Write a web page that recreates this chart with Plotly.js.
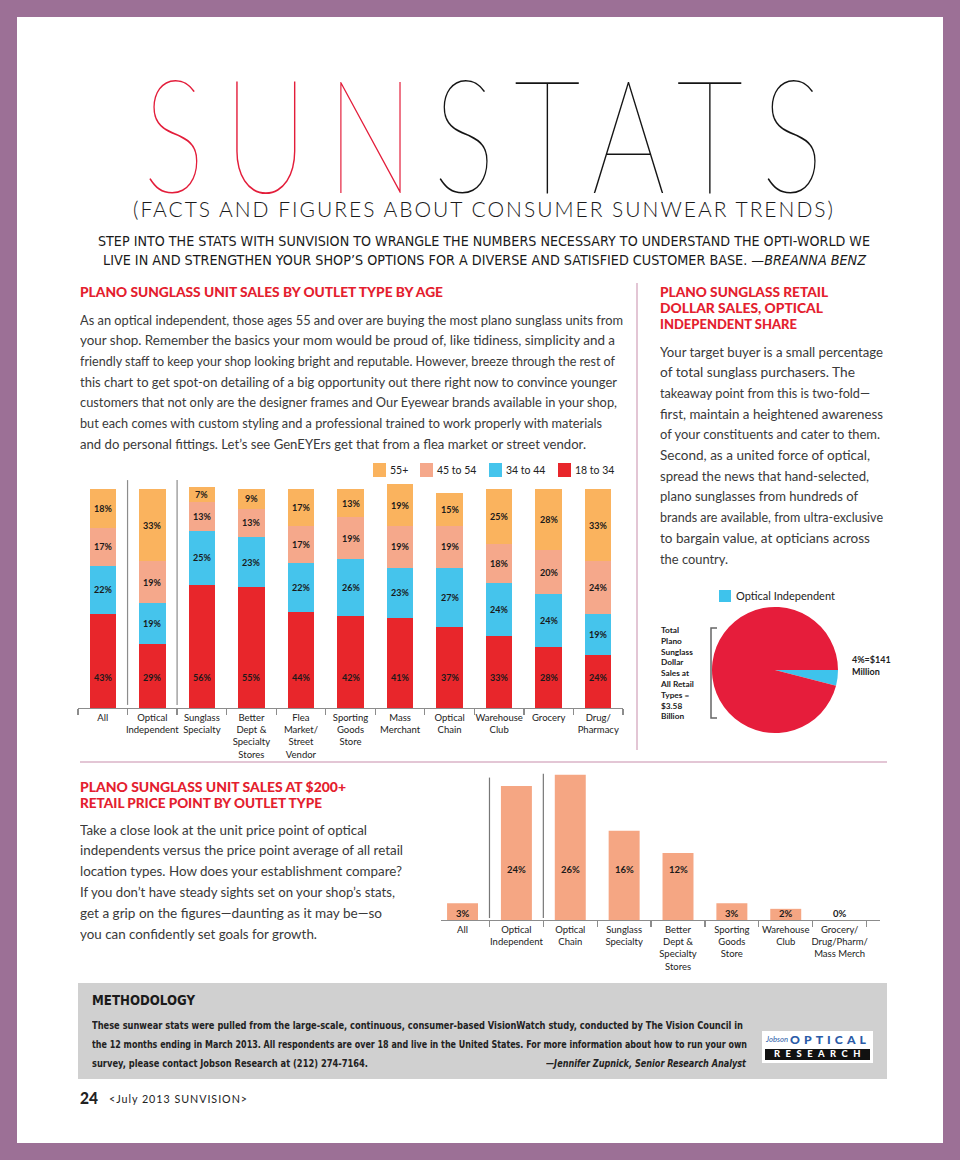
<!DOCTYPE html>
<html><head><meta charset="utf-8">
<script src="https://cdn.plot.ly/plotly-3.0.1.min.js"></script>
<style>
html,body{margin:0;padding:0;}
body{width:960px;height:1160px;background:#9c7096;position:relative;overflow:hidden;font-family:Lato,'Open Sans',sans-serif;}
#page{position:absolute;left:17px;top:17px;width:926px;height:1126px;background:#fff;}
.ln{position:absolute;white-space:nowrap;transform-origin:0 50%;line-height:1;}
.chart{position:absolute;}
#vdiv{position:absolute;left:636px;top:283px;width:2px;height:467px;background:#e3c6d5;}
#hdiv{position:absolute;left:80px;top:761px;width:807px;height:2px;background:#e3c6d5;}
#meth{position:absolute;left:78px;top:983px;width:809px;height:96px;background:#d0d0d0;}
#logo{position:absolute;left:762px;top:1031px;width:111px;height:32px;background:#fff;}
#logobar{position:absolute;left:765px;top:1049px;width:105px;height:11px;background:#111;}
</style></head>
<body>
<div id="page"></div>
<svg id="ttl" width="960" height="240" style="position:absolute;left:0;top:0">
  <text transform="translate(143,193) scale(0.74,1)" x="0" y="0" font-size="158" textLength="919" lengthAdjust="spacing" font-family="Lato" font-weight="200"><tspan fill="#e31d3a">SUN</tspan><tspan fill="#141414">STATS</tspan></text>
  <text x="133" y="217" font-size="21" textLength="700" lengthAdjust="spacing" font-family="Lato" font-weight="300" fill="#1a1a1a">(FACTS AND FIGURES ABOUT CONSUMER SUNWEAR TRENDS)</text>
</svg>
<div id="vdiv"></div>
<div id="hdiv"></div>
<div id="meth"></div>
<div id="logo"></div>
<div id="logobar"></div>
<div id="chartA" class="chart" style="left:60px;top:455px;width:580px;height:310px"></div>
<div id="chartB" class="chart" style="left:650px;top:580px;width:250px;height:160px"></div>
<div id="chartC" class="chart" style="left:420px;top:760px;width:470px;height:220px"></div>
<div id="txt"></div>
<script>
// ---------------- DATA ----------------
const ageCats = ['All','Optical<br>Independent','Sunglass<br>Specialty','Better<br>Dept &<br>Specialty<br>Stores','Flea<br>Market/<br>Street<br>Vendor','Sporting<br>Goods<br>Store','Mass<br>Merchant','Optical<br>Chain','Warehouse<br>Club','Grocery','Drug/<br>Pharmacy'];
const ageSeries = ['18 to 34','34 to 44','45 to 54','55+'];
const age18to34 = [43,29,56,55,44,42,41,37,33,28,24];
const age34to44 = [22,19,25,23,22,26,23,27,24,24,19];
const age45to54 = [17,19,13,13,17,19,19,19,18,20,24];
const age55plus = [18,33,7,9,17,13,19,15,25,28,33];

const pieLabels = ['Optical Independent','All Other Retail Types'];
const pieShare = [4,96];
const pieNote = '4%=$141<br>Million';
const pieTotalNote = 'Total<br>Plano<br>Sunglass<br>Dollar<br>Sales at<br>All Retail<br>Types =<br>$3.58<br>Billion';

const priceCats = ['All','Optical<br>Independent','Optical<br>Chain','Sunglass<br>Specialty','Better<br>Dept &<br>Specialty<br>Stores','Sporting<br>Goods<br>Store','Warehouse<br>Club','Grocery/<br>Drug/Pharm/<br>Mass Merch'];
const priceShare = [3,24,26,16,12,3,2,0];

// ---------------- STYLES ----------------
const cRed='#e8262b', cBlue='#45c4ec', cSalmon='#f5a88b', cOrange='#fab35e';
const ageColors=[cRed,cBlue,cSalmon,cOrange];
const FONT='Lato, "Open Sans", sans-serif';
const NARROW='"Liberation Sans Narrow","DejaVu Sans Condensed",sans-serif';
const cfg={staticPlot:true,displayModeBar:false};

// ---------------- CHART A: stacked ----------------
(function(){
  const segs=[age18to34,age34to44,age45to54,age55plus];
  const traces=segs.map((arr,k)=>({type:'bar',x:ageCats,y:arr,name:ageSeries[k],marker:{color:ageColors[k],line:{width:0}},hoverinfo:'none'}));
  const ann=[];
  ageCats.forEach((c,i)=>{
    let base=0;
    segs.forEach((arr,k)=>{
      const v=arr[i];
      ann.push({x:c,y:(k===0?14:base+v/2),xref:'x',yref:'y',text:'<b>'+v+'%</b>',showarrow:false,font:{family:FONT,size:9,color:'#1a1a1a'}});
      base+=v;
    });
  });
  const px=x=>(x-78)/545, py=y=>(708-y)/229;
  const legX=[373,420,489,558];
  const shapes=[
    {type:'line',xref:'x',yref:'y',x0:0.5,x1:0.5,y0:1.4,y1:104,line:{color:'#8c8c8c',width:1.2}},
    {type:'line',xref:'x',yref:'y',x0:1.5,x1:1.5,y0:1.4,y1:104,line:{color:'#8c8c8c',width:1.2}}
  ];
  const order=[3,2,1,0];
  order.forEach((k,j)=>{
    shapes.push({type:'rect',xref:'paper',yref:'paper',x0:px(legX[j]),x1:px(legX[j]+13),y0:py(477),y1:py(463),fillcolor:ageColors[k],line:{width:0}});
    ann.push({xref:'paper',yref:'paper',x:px(legX[j]+15),y:py(470),xanchor:'left',yanchor:'middle',text:ageSeries[k],showarrow:false,font:{family:FONT,size:10.5,color:'#222'}});
  });
  Plotly.newPlot('chartA',traces,{
    width:580,height:310,margin:{l:18,r:17,t:24,b:57},
    barmode:'stack',bargap:0.465,showlegend:false,
    paper_bgcolor:'rgba(0,0,0,0)',plot_bgcolor:'rgba(0,0,0,0)',
    xaxis:{type:'category',tickangle:0,tickson:'boundaries',ticks:'outside',ticklen:6,tickcolor:'#8c8c8c',tickwidth:1.2,
      showline:true,linecolor:'#8c8c8c',linewidth:1.2,showgrid:false,tickfont:{family:FONT,size:9.5,color:'#222'}},
    yaxis:{range:[0,104.5],visible:false,showgrid:false,zeroline:false},
    shapes:shapes,annotations:ann
  },cfg);
})();

// ---------------- CHART B: pie ----------------
(function(){
  const W=250,H=160;
  const px=x=>(x-650)/W, py=y=>(740-y)/H;
  Plotly.newPlot('chartB',[{type:'pie',labels:pieLabels,values:pieShare,sort:false,direction:'counterclockwise',rotation:90,
    textinfo:'none',hoverinfo:'none',marker:{colors:['#3ec3ec','#e61d3b'],line:{width:0}},
    domain:{x:[px(712),px(838)],y:[py(733),py(607)]}}],{
    width:W,height:H,margin:{l:0,r:0,t:0,b:0},showlegend:false,
    paper_bgcolor:'rgba(0,0,0,0)',
    shapes:[
      {type:'rect',xref:'paper',yref:'paper',x0:px(719),x1:px(731),y0:py(602),y1:py(590),fillcolor:'#3ec3ec',line:{width:0}},
      {type:'path',xref:'paper',yref:'paper',path:'M'+px(717)+','+py(628)+' L'+px(711)+','+py(628)+' L'+px(711)+','+py(718)+' L'+px(717)+','+py(718),line:{color:'#666',width:1.5}}
    ],
    annotations:[
      {xref:'paper',yref:'paper',x:px(734),y:py(596),xanchor:'left',yanchor:'middle',text:pieLabels[0],showarrow:false,font:{family:FONT,size:11,color:'#222'}},
      {xref:'paper',yref:'paper',x:px(850),y:py(665.5),xanchor:'left',yanchor:'middle',align:'left',text:'<b>'+pieNote+'</b>',showarrow:false,font:{family:FONT,size:9,color:'#222'}},
      {xref:'paper',yref:'paper',x:px(658),y:py(673),xanchor:'left',yanchor:'middle',align:'left',text:'<b>'+pieTotalNote+'</b>',showarrow:false,font:{family:FONT,size:8.3,color:'#222'}}
    ]
  },cfg);
})();

// ---------------- CHART C: $200+ bars ----------------
(function(){
  const ann=priceCats.map((c,i)=>({x:c,y:(priceShare[i]>=10?9:1.25),xref:'x',yref:'y',text:'<b>'+priceShare[i]+'%</b>',showarrow:false,font:{family:FONT,size:9.5,color:'#1a1a1a'}}));
  Plotly.newPlot('chartC',[{type:'bar',x:priceCats,y:priceShare,marker:{color:'#f5a683',line:{width:0}},hoverinfo:'none'}],{
    width:470,height:220,margin:{l:21,r:10,t:12,b:60},bargap:0.425,showlegend:false,
    paper_bgcolor:'rgba(0,0,0,0)',plot_bgcolor:'rgba(0,0,0,0)',
    xaxis:{type:'category',tickangle:0,range:[-0.4,7.75],tickson:'boundaries',ticks:'outside',ticklen:6,tickcolor:'#8c8c8c',tickwidth:1.2,
      showline:true,linecolor:'#8c8c8c',linewidth:1.2,showgrid:false,tickfont:{family:FONT,size:9.5,color:'#222'}},
    yaxis:{range:[0,26.5],visible:false,showgrid:false,zeroline:false},
    shapes:[
      {type:'line',xref:'x',yref:'y',x0:0.5,x1:0.5,y0:0.35,y1:25.5,line:{color:'#777',width:1.2}},
      {type:'line',xref:'x',yref:'y',x0:1.5,x1:1.5,y0:0.35,y1:26.2,line:{color:'#777',width:1.2}}
    ],
    annotations:ann
  },cfg);
})();

// ---------------- TEXT ----------------
const cls={
  intro:{fs:14.5,fam:NARROW,w:400,col:'#1a1a1a',a:0.5},
  hd:{fs:13.5,fam:FONT,w:900,col:'#e4202e',a:0.52},
  body:{fs:12.5,fam:FONT,w:400,col:'#3a3a3a',a:0.6},
  mh:{fs:14,fam:NARROW,w:700,col:'#1a1a1a',a:0.5},
  meth:{fs:11,fam:NARROW,w:700,col:'#222',a:0.55},
  attr:{fs:11,fam:NARROW,w:700,col:'#222',a:0.55,it:1},
  f24:{fs:16,fam:FONT,w:900,col:'#222',a:0.5},
  foot:{fs:11,fam:FONT,w:400,col:'#222',a:0.55,ls:1},
  lj:{fs:7,fam:FONT,w:400,col:'#2a5ba8',a:0.55,it:1},
  lo:{fs:12,fam:FONT,w:900,col:'#2a5ba8',a:0.5,ls:4},
  lr:{fs:8.5,fam:FONT,w:900,col:'#fff',a:0.5,ls:5}
};
const p1=['As an optical independent, those ages 55 and over are buying the most plano sunglass units from',
'your shop. Remember the basics your mom would be proud of, like tidiness, simplicity and a',
'friendly staff to keep your shop looking bright and reputable. However, breeze through the rest of',
'this chart to get spot-on detailing of a big opportunity out there right now to convince younger',
'customers that not only are the designer frames and Our Eyewear brands available in your shop,',
'but each comes with custom styling and a professional trained to work properly with materials',
'and do personal fittings. Let’s see GenEYErs get that from a flea market or street vendor.'];
const p1w=[543,535,535,537,537,522,506];
const p2=['Your target buyer is a small percentage','of total sunglass purchasers. The','takeaway point from this is two-fold—',
'first, maintain a heightened awareness','of your constituents and cater to them.','Second, as a united force of optical,',
'spread the news that hand-selected,','plano sunglasses from hundreds of','brands are available, from ultra-exclusive',
'to bargain value, at opticians across','the country.'];
const p2w=[223,195,210,223,220,210,209,198,223,210,68];
const p3=['Take a close look at the unit price point of optical','independents versus the price point average of all retail',
'location types. How does your establishment compare?','If you don’t have steady sights set on your shop’s stats,',
'get a grip on the figures—daunting as it may be—so','you can confidently set goals for growth.'];
const p3w=[287,323,322,315,302,237];
const L=[
 ['intro',98,241,772,'STEP INTO THE STATS WITH SUNVISION TO WRANGLE THE NUMBERS NECESSARY TO UNDERSTAND THE OPTI-WORLD WE'],
 ['intro',103,260,763,'LIVE IN AND STRENGTHEN YOUR SHOP’S OPTIONS FOR A DIVERSE AND SATISFIED CUSTOMER BASE. <i>—BREANNA BENZ</i>'],
 ['hd',80,293,363,'PLANO SUNGLASS UNIT SALES BY OUTLET TYPE BY AGE'],
 ['hd',660,293,168,'PLANO SUNGLASS RETAIL'],
 ['hd',660,309,163,'DOLLAR SALES, OPTICAL'],
 ['hd',660,325,137,'INDEPENDENT SHARE'],
 ['hd',80,788,266,'PLANO SUNGLASS UNIT SALES AT $200+'],
 ['hd',80,804,242,'RETAIL PRICE POINT BY OUTLET TYPE'],
 ['mh',92,1000,103,'METHODOLOGY'],
 ['meth',92,1026,651,'These sunwear stats were pulled from the large-scale, continuous, consumer-based VisionWatch study, conducted by The Vision Council in'],
 ['meth',92,1045,655,'the 12 months ending in March 2013. All respondents are over 18 and live in the United States. For more information about how to run your own'],
 ['meth',92,1064,276,'survey, please contact Jobson Research at (212) 274-7164.'],
 ['attr',546,1064,200,'—Jennifer Zupnick, Senior Research Analyst'],
 ['f24',80,1098,18,'24'],
 ['foot',109,1099,139,'&lt;July 2013 SUNVISION&gt;'],
 ['lj',766,1040,22,'Jobson'],
 ['lo',790,1040,80,'OPTICAL'],
 ['lr',774,1054,92,'RESEARCH']
];
p1.forEach((t,i)=>L.push(['body',80,322+20.7*i,p1w[i],t]));
p2.forEach((t,i)=>L.push(['body',660,354+20.7*i,p2w[i],t]));
p3.forEach((t,i)=>L.push(['body',80,832+20.8*i,p3w[i],t]));
const box=document.getElementById('txt');
L.forEach(([c,x,y,w,t])=>{
  const s=cls[c];const d=document.createElement('div');
  d.className='ln';d.innerHTML=t;d.dataset.w=w;
  d.style.left=x+'px';d.style.top=(y-s.a*s.fs)+'px';d.style.fontSize=s.fs+'px';
  d.style.fontFamily=s.fam;d.style.fontWeight=s.w;d.style.color=s.col;if(s.it)d.style.fontStyle='italic';
  if(s.ls)d.style.letterSpacing=s.ls+'px';
  box.appendChild(d);
});
function fit(){
  document.querySelectorAll('.ln').forEach(el=>{
    el.style.transform='none';
    const nat=el.getBoundingClientRect().width;const w=+el.dataset.w;
    if(nat>0)el.style.transform='scaleX('+(w/nat)+')';
  });
}
fit();
if(document.fonts&&document.fonts.ready)document.fonts.ready.then(fit);
</script>
</body></html>
